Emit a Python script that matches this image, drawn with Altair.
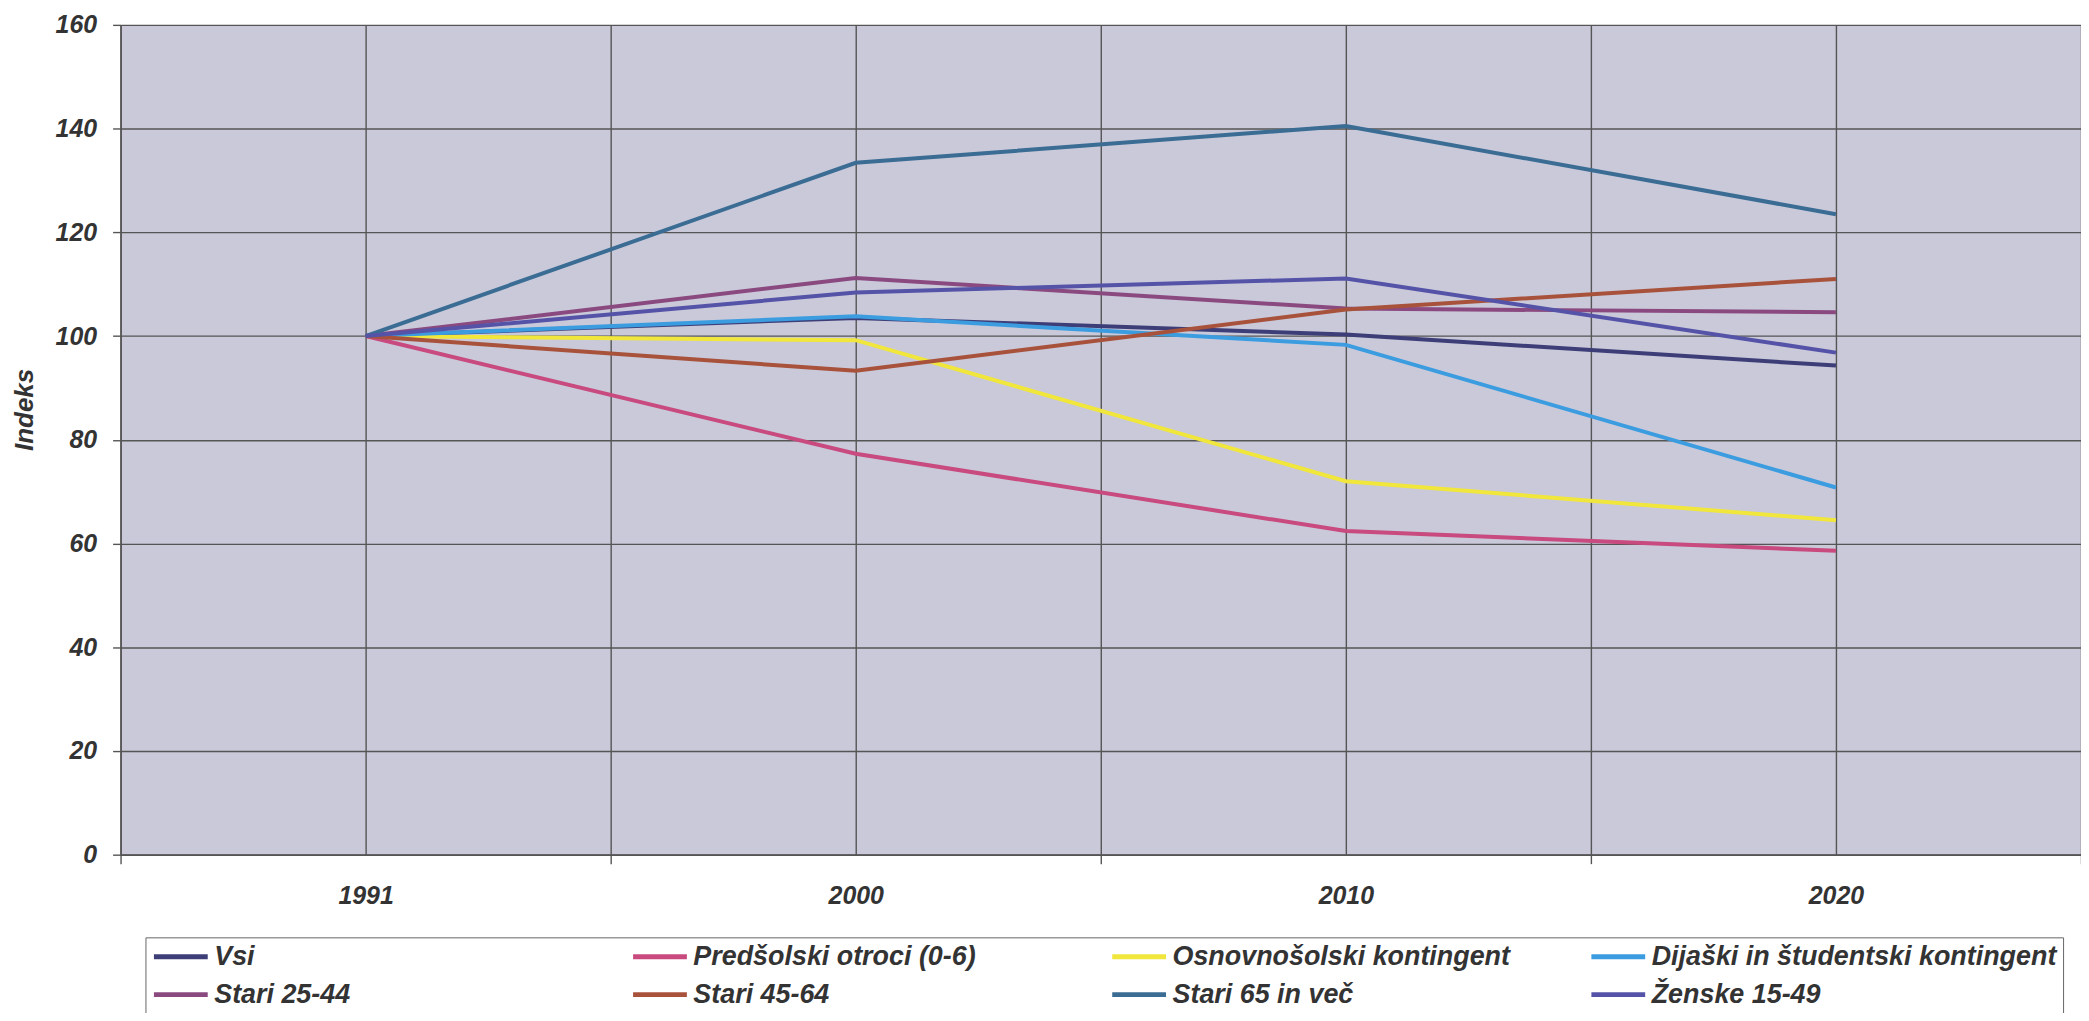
import json
import altair as alt
import pandas as pd

# ---- data ----
years = ["1991", "2000", "2010", "2020"]
series = [
    "Vsi",
    "Predšolski otroci (0-6)",
    "Osnovnošolski kontingent",
    "Dijaški in študentski kontingent",
    "Stari 25-44",
    "Stari 45-64",
    "Stari 65 in več",
    "Ženske 15-49",
]
vsi = [100, 103.5, 100.3, 94.3]
predsolski = [100, 77.3, 62.4, 58.6]
osnovnosolski = [100, 99.2, 72.0, 64.5]
dijaski = [100, 103.8, 98.3, 70.8]
stari_25_44 = [100, 111.2, 105.3, 104.6]
stari_45_64 = [100, 93.3, 105.1, 111.0]
stari_65 = [100, 133.4, 140.5, 123.5]
zenske = [100, 108.4, 111.1, 96.8]
colors = ["#3d3e78", "#c84a7e", "#f0e63c", "#3c9ce0",
          "#8a4a80", "#a8523c", "#3a6c94", "#5553a8"]
y_ticks = [0, 20, 40, 60, 80, 100, 120, 140, 160]

values = [vsi, predsolski, osnovnosolski, dijaski,
          stari_25_44, stari_45_64, stari_65, zenske]

rows = []
for name, vals in zip(series, values):
    for i, (yr, v) in enumerate(zip(years, vals)):
        rows.append({"serija": name, "leto": yr, "idx": i, "indeks": v})
df = pd.DataFrame(rows)

# the legend grid fills column by column: interleave so it reads row by row
n_cols, n_rows = 4, 2
legend_order = [series[r * n_cols + c] for c in range(n_cols) for r in range(n_rows)]
color_of = dict(zip(series, colors))
legend_colors = [color_of[s] for s in legend_order]

# grid at category centres and band boundaries
x_grid = [i * 0.5 - 0.5 for i in range(2 * len(years) + 1)]
label_expr = f"datum.value % 1 === 0 ? {json.dumps(years)}[datum.value] : ''"

FONT = "Liberation Sans"

chart = (
    alt.Chart(df)
    .mark_line(strokeWidth=4)
    .encode(
        x=alt.X(
            "idx:Q",
            scale=alt.Scale(domain=[-0.5, len(years) - 0.5], nice=False, zero=False),
            axis=alt.Axis(
                values=x_grid,
                labelExpr=label_expr,
                title=None,
                grid=True,
                tickSize=9,
                tickOpacity={"condition": {"test": "datum.value % 1 === 0", "value": 0}, "value": 1},
                labelPadding=20,
                labelOverlap=False,
                labelFlush=False,
                labelBaseline="top",
            ),
        ),
        y=alt.Y(
            "indeks:Q",
            scale=alt.Scale(domain=[0, 160], nice=False),
            axis=alt.Axis(
                values=y_ticks,
                title="Indeks",
                grid=True,
                tickSize=8,
                labelPadding=16,
                titleX=-96,
                titleY=386,
                titleAngle=270,
                titleAlign="center",
                titleBaseline="middle",
            ),
        ),
        color=alt.Color(
            "serija:N",
            sort=legend_order,
            scale=alt.Scale(domain=legend_order, range=legend_colors),
            legend=alt.Legend(title=None, orient="none", legendX=25, legendY=916),
        ),
    )
    .properties(
        width=1968,
        height=833,
        autosize=alt.AutoSizeParams(type="none"),
        padding={"left": 113, "top": 15, "right": 0, "bottom": 157},
        background="white",
    )
    .configure_axis(
        labelFont=FONT,
        labelFontSize=25,
        labelFontStyle="italic",
        labelFontWeight="bold",
        labelColor="#333333",
        titleFont=FONT,
        titleFontSize=26,
        titleFontStyle="italic",
        titleFontWeight="bold",
        titleColor="#333333",
        gridColor="#555555",
        gridWidth=1.4,
        domainColor="#555555",
        domainWidth=1.6,
        tickColor="#555555",
        tickWidth=1.4,
    )
    .configure_legend(
        labelFont=FONT,
        labelFontSize=27,
        labelFontStyle="italic",
        labelFontWeight="bold",
        labelColor="#333333",
        symbolType="stroke",
        symbolStrokeWidth=5,
        symbolSize=2916,
        labelOffset=4,
        columns=4,
        columnPadding=11,
        rowPadding=10,
        padding=6,
        strokeColor="#666666",
        fillColor="white",
        gridAlign="all",
        labelLimit=600,
        clipHeight=27,
    )
    .configure_view(fill="#c9c9da", strokeOpacity=0)
)

chart.save("out.html", embed_options={"renderer": "svg", "actions": False})
